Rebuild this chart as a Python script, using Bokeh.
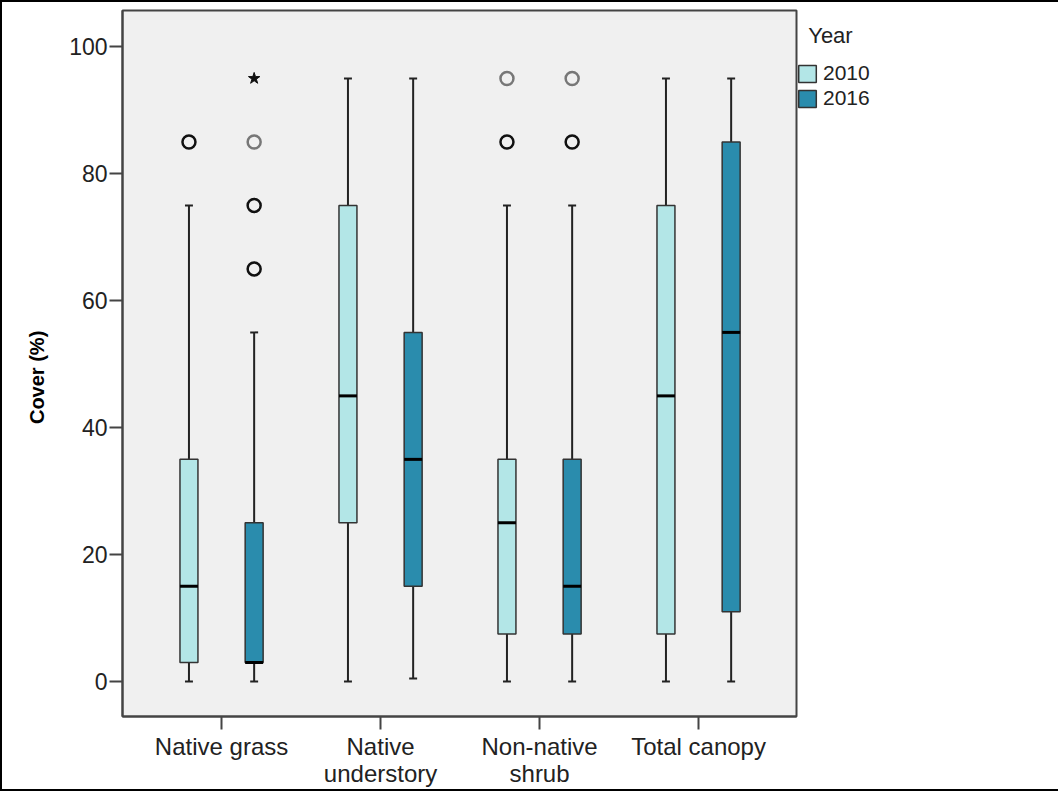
from bokeh.plotting import figure
from bokeh.models import FixedTicker, Legend, LegendItem, ColumnDataSource
from bokeh.embed import file_html
from bokeh.resources import INLINE

categories = ["Native grass", "Native understory", "Non-native shrub", "Total canopy"]
tick_labels = ["Native grass", "Native\nunderstory", "Non-native\nshrub", "Total canopy"]
years = ["2010", "2016"]
colors = {"2010": "#b3e6e7", "2016": "#2a8cad"}

low_2010 = [0, 0, 0, 0]
q1_2010 = [3, 25, 7.5, 7.5]
med_2010 = [15, 45, 25, 45]
q3_2010 = [35, 75, 35, 75]
high_2010 = [75, 95, 75, 95]

low_2016 = [0, 0.5, 0, 0]
q1_2016 = [3, 15, 7.5, 11]
med_2016 = [3, 35, 15, 55]
q3_2016 = [25, 55, 35, 85]
high_2016 = [55, 95, 75, 95]

outlier_cat = ["Native grass", "Native grass", "Native grass", "Native grass",
               "Non-native shrub", "Non-native shrub", "Non-native shrub", "Non-native shrub"]
outlier_year = ["2010", "2016", "2016", "2016", "2010", "2010", "2016", "2016"]
outlier_value = [85, 85, 75, 65, 95, 85, 95, 85]
outlier_n = [2, 1, 2, 2, 1, 2, 1, 2]

extreme_cat = ["Native grass"]
extreme_year = ["2016"]
extreme_value = [95]

FONT = "Liberation Sans"
TEXT = "#222222"
offset = {"2010": -0.205, "2016": 0.205}
box_w = 0.113
cap_w = 0.05

x_lo, x_hi = 0.377, 4.616
y_lo, y_hi = -5.5, 105.7

p = figure(frame_width=674, frame_height=706, x_range=(x_lo, x_hi), y_range=(y_lo, y_hi),
           output_backend="svg", toolbar_location=None,
           min_border_left=120, min_border_top=8, min_border_right=244, min_border_bottom=63)
p.styles = {"border": "2px solid black"}
p.background_fill_color = "#f0f0f0"
p.border_fill_color = "white"
p.outline_line_color = "#444444"
p.outline_line_width = 2
p.xgrid.visible = False
p.ygrid.visible = False

def pos(cat, yr):
    return categories.index(cat) + 1 + offset[yr]

stats = {"2010": (low_2010, q1_2010, med_2010, q3_2010, high_2010),
         "2016": (low_2016, q1_2016, med_2016, q3_2016, high_2016)}

legend_items = []
for yr in years:
    lo, q1, md, q3, hi = stats[yr]
    xs = [pos(c, yr) for c in categories]
    src = ColumnDataSource(dict(x=xs, lo=lo, q1=q1, md=md, q3=q3, hi=hi,
                                xl=[x - box_w / 2 for x in xs], xr=[x + box_w / 2 for x in xs],
                                cl=[x - cap_w / 2 for x in xs], cr=[x + cap_w / 2 for x in xs]))
    p.segment(x0="x", y0="q3", x1="x", y1="hi", source=src, line_color="#222222", line_width=2)
    p.segment(x0="x", y0="lo", x1="x", y1="q1", source=src, line_color="#222222", line_width=2)
    p.segment(x0="cl", y0="hi", x1="cr", y1="hi", source=src, line_color="#222222", line_width=2)
    p.segment(x0="cl", y0="lo", x1="cr", y1="lo", source=src, line_color="#222222", line_width=2)
    r = p.quad(left="xl", right="xr", bottom="q1", top="q3", source=src,
               fill_color=colors[yr], line_color="#333333", line_width=1.5)
    p.segment(x0="xl", y0="md", x1="xr", y1="md", source=src, line_color="black", line_width=3)
    legend_items.append(LegendItem(label=yr, renderers=[r]))

ox = [pos(c, y) for c, y in zip(outlier_cat, outlier_year)]
ocol = ["#111111" if n > 1 else "#777777" for n in outlier_n]
osrc = ColumnDataSource(dict(x=ox, y=outlier_value, c=ocol))
p.scatter(x="x", y="y", source=osrc, marker="circle", size=13, fill_color=None,
          line_color="c", line_width=2.5)
ex = [pos(c, y) for c, y in zip(extreme_cat, extreme_year)]
p.scatter(x=ex, y=extreme_value, marker="star", size=12, fill_color="#111111", line_color="#111111")

# axes
p.yaxis.ticker = FixedTicker(ticks=[0, 20, 40, 60, 80, 100])
p.yaxis.minor_tick_line_color = None
p.yaxis.major_tick_in = 0
p.yaxis.major_tick_out = 13
p.yaxis.major_tick_line_width = 2
p.yaxis.major_tick_line_color = "#444444"
p.yaxis.axis_line_color = "#444444"
p.yaxis.axis_line_width = 2
p.yaxis.major_label_text_font = FONT
p.yaxis.major_label_text_font_size = "23px"
p.yaxis.major_label_text_color = TEXT
p.yaxis.major_label_standoff = 2
p.yaxis.axis_label = "Cover (%)\u00a0\u00a0\u00a0\u00a0\u00a0"
p.yaxis.axis_label_text_font = FONT
p.yaxis.axis_label_text_font_size = "20px"
p.yaxis.axis_label_text_font_style = "bold"
p.yaxis.axis_label_text_color = "black"
p.yaxis.axis_label_standoff = 18

p.xaxis.ticker = FixedTicker(ticks=[1, 2, 3, 4])
p.xaxis.major_label_overrides = {i + 1: t for i, t in enumerate(tick_labels)}
p.xaxis.minor_tick_line_color = None
p.xaxis.major_tick_in = 0
p.xaxis.major_tick_out = 13
p.xaxis.major_tick_line_width = 2
p.xaxis.major_tick_line_color = "#444444"
p.xaxis.axis_line_color = "#444444"
p.xaxis.axis_line_width = 2
p.xaxis.major_label_text_font = FONT
p.xaxis.major_label_text_font_size = "24px"
p.xaxis.major_label_text_color = TEXT
p.xaxis.major_label_standoff = 3
p.xaxis.major_label_text_line_height = 1.0

legend = Legend(items=legend_items, location=(0, 606), orientation="vertical",
                title="\u00a0\u00a0Year")
legend.title_text_font = FONT
legend.title_text_font_size = "22px"
legend.title_text_font_style = "normal"
legend.title_text_color = TEXT
legend.title_standoff = 12
legend.glyph_width = 22
legend.glyph_height = 21
legend.spacing = 1
legend.padding = 2
legend.margin = 0
legend.label_standoff = 5
legend.label_text_font = FONT
legend.label_text_font_size = "21px"
legend.label_text_color = TEXT
legend.label_height = 21
legend.background_fill_alpha = 0
legend.border_line_color = None
p.add_layout(legend, "right")

open("out.html", "w").write(file_html(p, INLINE))
